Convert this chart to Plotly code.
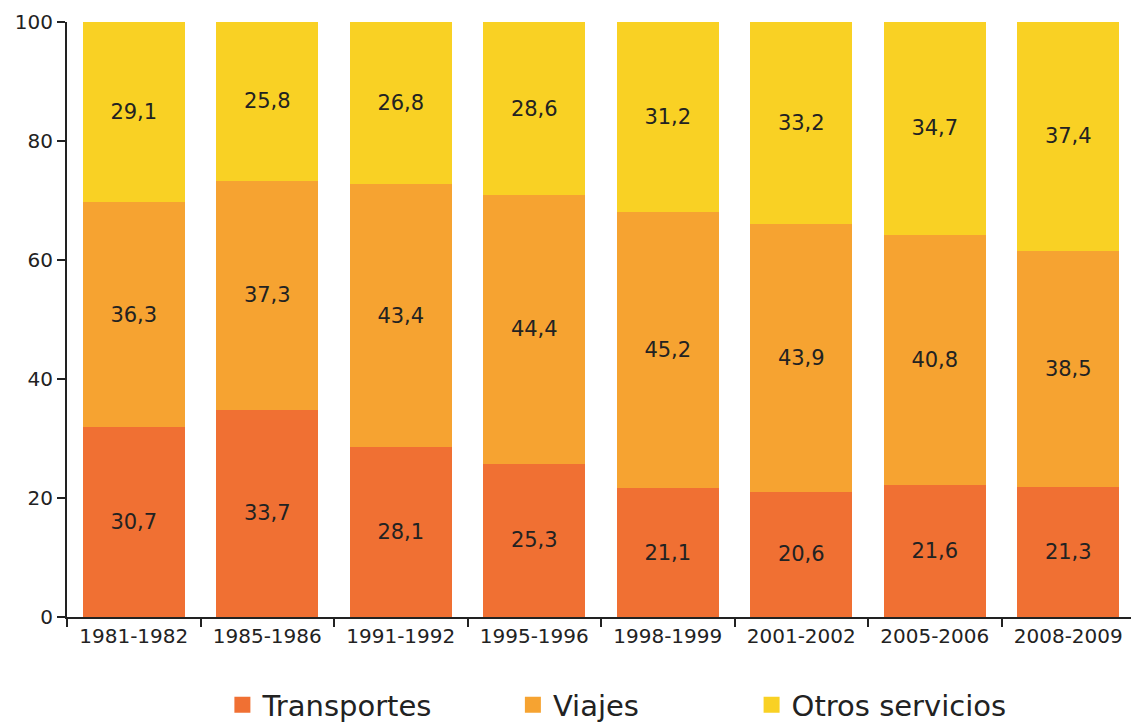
import plotly.graph_objects as go

categories = ["1981-1982", "1985-1986", "1991-1992", "1995-1996",
              "1998-1999", "2001-2002", "2005-2006", "2008-2009"]
transportes = [30.7, 33.7, 28.1, 25.3, 21.1, 20.6, 21.6, 21.3]
viajes = [36.3, 37.3, 43.4, 44.4, 45.2, 43.9, 40.8, 38.5]
otros = [29.1, 25.8, 26.8, 28.6, 31.2, 33.2, 34.7, 37.4]

series = [
    ("Transportes", transportes, "#F07033"),
    ("Viajes", viajes, "#F6A331"),
    ("Otros servicios", otros, "#F9D124"),
]
legend_x = [0.1455, 0.4175, 0.641]

FONT = "DejaVu Sans, Verdana, sans-serif"
fig = go.Figure()
for i, (name, vals, color) in enumerate(series):
    fig.add_trace(go.Bar(
        x=categories, y=vals, name=name, showlegend=False,
        marker=dict(color=color, line=dict(width=0)),
        text=vals, texttemplate="%{text:.1f}",
        textposition="inside", insidetextanchor="middle",
        textfont=dict(size=21, color="#222222", family=FONT),
        textangle=0,
    ))
for i, (name, vals, color) in enumerate(series):
    lg = "legend" if i == 0 else f"legend{i+1}"
    fig.add_trace(go.Scatter(
        x=[categories[0]], y=[None], name=name, mode="markers",
        marker=dict(symbol="square", size=20, color=color),
        legend=lg, showlegend=True,
    ))

legend_common = dict(orientation="h", yref="container", y=0.024, yanchor="middle",
                     xanchor="left",
                     font=dict(size=29, color="#222222", family=FONT),
                     itemwidth=30, bgcolor="rgba(0,0,0,0)")
fig.update_layout(
    barmode="stack", barnorm="percent", bargap=0.235,
    separators=",.",
    width=1131, height=714,
    margin=dict(l=59, r=4, t=14, b=105, autoexpand=False),
    plot_bgcolor="white", paper_bgcolor="white",
    font=dict(family=FONT, color="#222222"),
    legend=dict(x=legend_x[0], **legend_common),
    legend2=dict(x=legend_x[1], **legend_common),
    legend3=dict(x=legend_x[2], **legend_common),
)
fig.update_xaxes(showline=True, linecolor="#222222", linewidth=2,
                 ticks="outside", tickson="boundaries", ticklen=8, tickwidth=2,
                 tickcolor="#222222", tickfont=dict(size=20, color="#222222"),
                 showgrid=False, automargin=False)
fig.update_yaxes(range=[0, 100], dtick=20, showline=True, linecolor="#222222", linewidth=2,
                 ticks="outside", ticklen=8, tickwidth=2, tickcolor="#222222",
                 tickfont=dict(size=20, color="#222222"), showgrid=False, zeroline=False,
                 automargin=False)

fig.write_html("out.html")
